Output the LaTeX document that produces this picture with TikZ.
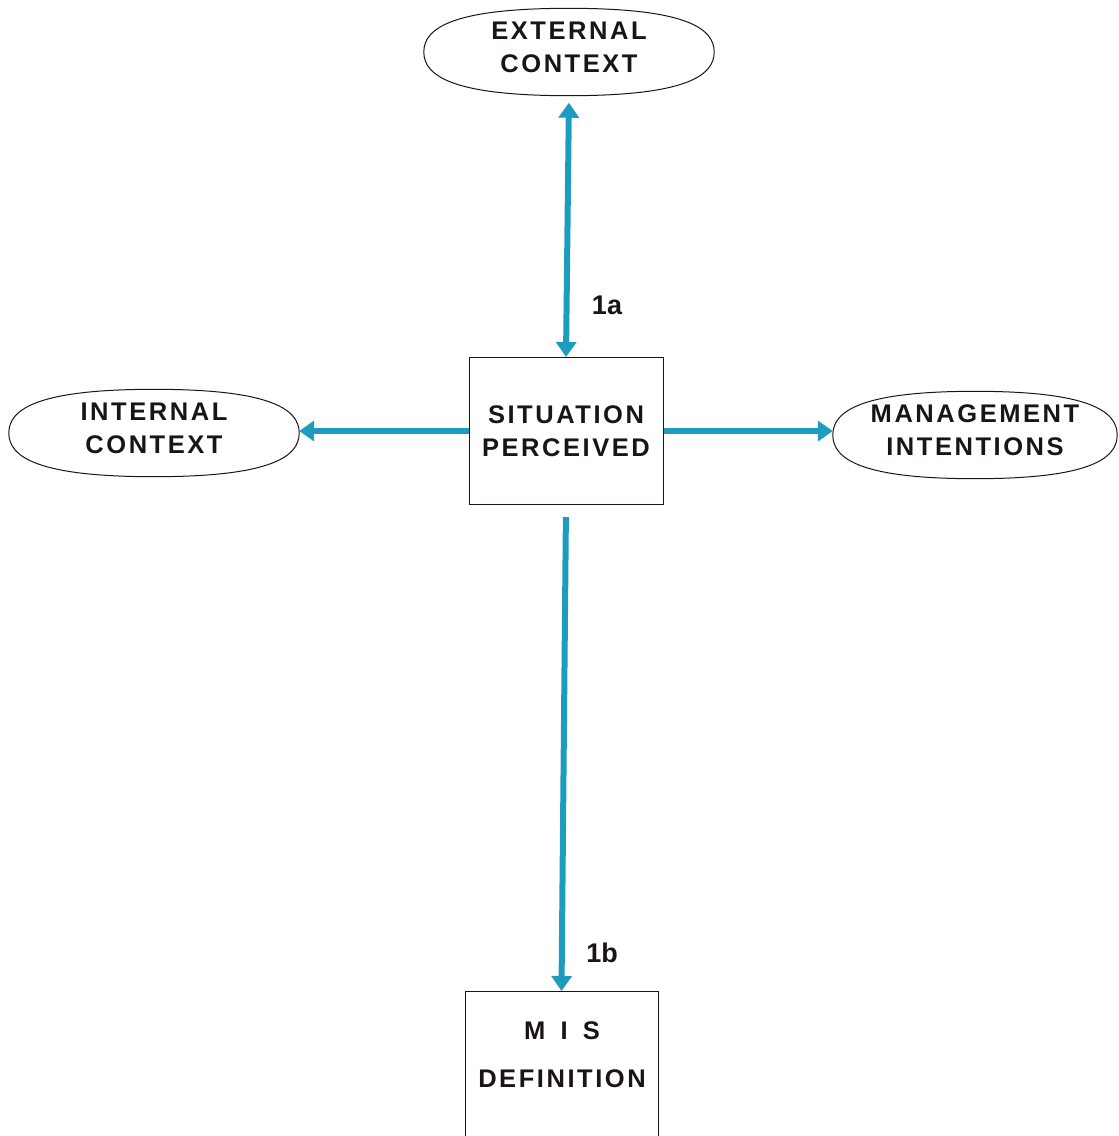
\documentclass[tikz,border=0pt]{standalone}
\usepackage{fontspec}
\setmainfont{Liberation Sans}
\newfontfamily\spaced{Liberation Sans}[LetterSpace=10]
\usetikzlibrary{arrows.meta,calc}
\definecolor{flow}{HTML}{1E9CC0}
\definecolor{ink}{HTML}{1A1418}
\tikzset{
  x=1pt, y=-1pt,
  caption/.style={font=\spaced\bfseries\fontsize{25.5}{33}\selectfont, text=ink, align=center},
  context/.style={rectangle, inner sep=0pt, minimum width=290pt, minimum height=87pt},
  outline/.style={draw=ink, line width=1pt},
  stage/.style={rectangle, draw=ink, line width=1pt, inner sep=0pt},
  flowline/.style={draw=flow, line width=6pt,
    arrows={-Triangle[width=20pt,length=15pt]}},
  tag/.style={font=\bfseries\fontsize{27}{27}\selectfont, text=ink}
}
% an oval with flat top and bottom and narrower ends, traced inside node #1
\newcommand\ovalaround[1]{%
  \draw[outline]
    (#1.west) .. controls ($(#1.west)!0.55!(#1.north west)$) and ($(#1.north)!0.8!(#1.north west)$) .. (#1.north)
    .. controls ($(#1.north)!0.8!(#1.north east)$) and ($(#1.east)!0.55!(#1.north east)$) .. (#1.east)
    .. controls ($(#1.east)!0.55!(#1.south east)$) and ($(#1.south)!0.8!(#1.south east)$) .. (#1.south)
    .. controls ($(#1.south)!0.8!(#1.south west)$) and ($(#1.west)!0.55!(#1.south west)$) .. cycle;}
\begin{document}
\begin{tikzpicture}
\useasboundingbox (0,0) rectangle (1119,1136);
\clip (0,0) rectangle (1119,1136);

% context ovals, their captions set a little above centre
\node[context] (ext) at (569,52) {};
\ovalaround{ext}
\node[caption] (exttext) at ([yshift=5pt]ext.center) {EXTERNAL\\CONTEXT};
\node[context] (int) at (154,433) {};
\ovalaround{int}
\node[caption] (inttext) at ([yshift=5pt]int.center) {INTERNAL\\CONTEXT};
\node[context, minimum width=284pt] (mgt) at (975,435) {};
\ovalaround{mgt}
\node[caption] (mgttext) at ([yshift=5pt]mgt.center) {MANAGEMENT\\INTENTIONS};

% stage boxes
\node[stage, minimum width=194pt, minimum height=147pt, caption] (sit) at (566,431)
  {SITUATION\\PERCEIVED};
\node[stage, minimum width=193pt, minimum height=200pt, anchor=north] (mis) at (561.5,991) {};
\node[caption, anchor=north, font=\spaced\bfseries\fontsize{25.5}{48}\selectfont] (mistext)
  at (562,1018) {M\hspace{0.6em}I\hspace{0.6em}S\\DEFINITION};

% flows
\draw[flowline, arrows={Triangle[width=20pt,length=15pt]-Triangle[width=20pt,length=15pt]},
  shorten <=7pt] (ext.south) -- (sit.north);
\draw[flowline] (sit.west) -- (int.east |- sit.west);
\draw[flowline] (sit.east) -- (mgt.west |- sit.east);
\draw[flowline, shorten <=12pt] (sit.south) -- (mis.north);

% flow labels
\node[tag] (la) at (607,305) {1a};
\node[tag] (lb) at (602,953) {1b};
\end{tikzpicture}
\end{document}
